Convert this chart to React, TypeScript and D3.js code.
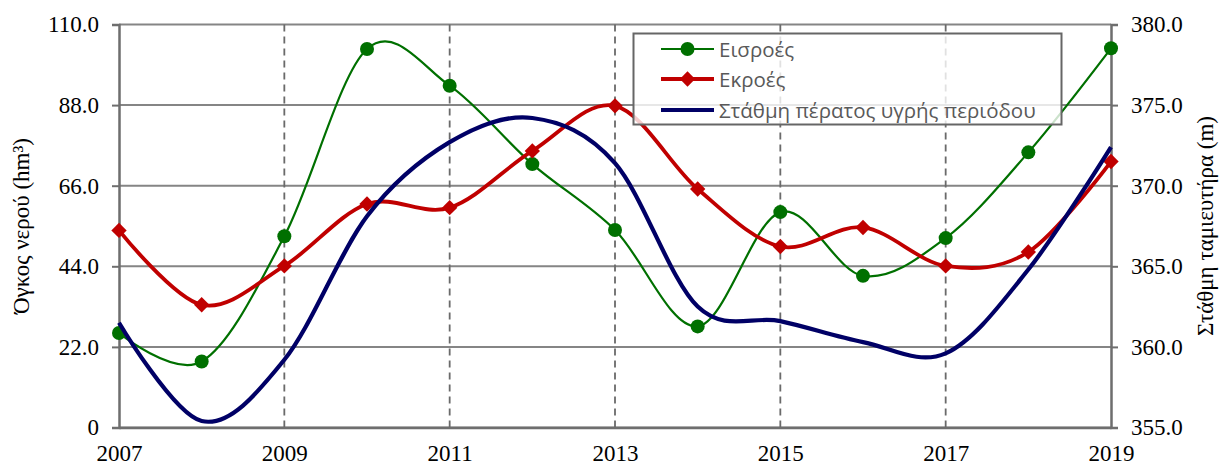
import React, { useEffect, useRef } from 'react';
import * as d3 from 'd3';

const years = [2007, 2008, 2009, 2010, 2011, 2012, 2013, 2014, 2015, 2016, 2017, 2018, 2019];
const inflows = [25.8, 18.0, 52.2, 103.3, 93.3, 71.9, 53.9, 27.6, 58.8, 41.4, 51.7, 75.1, 103.5];
const outflows = [53.8, 33.5, 44.1, 61.0, 60.0, 75.5, 87.8, 65.1, 49.4, 54.6, 44.1, 47.9, 72.6];
const level = [361.5, 355.4, 359.2, 368.1, 372.7, 374.2, 371.4, 362.5, 361.6, 360.3, 359.6, 364.8, 372.4];

const leftTicks = [0, 22, 44, 66, 88, 110];
const rightTicks = [355, 360, 365, 370, 375, 380];
const xLabels = [2007, 2009, 2011, 2013, 2015, 2017, 2019];
const dashedYears = [2009, 2011, 2013, 2015, 2017];

const seriesNames = ['Εισροές', 'Εκροές', 'Στάθμη πέρατος υγρής περιόδου'];

const App = () => {
  const svgRef = useRef<SVGSVGElement>(null);

  useEffect(() => {
    const width = 1224;
    const height = 466;
    const marginLeft = 119;
    const marginRight = 113;
    const marginTop = 24.5;
    const marginBottom = 38.5;

    const svg = d3.select(svgRef.current);
    svg.selectAll('*').remove();

    const x = d3.scaleLinear()
      .domain([2007, 2019])
      .range([marginLeft, width - marginRight]);

    const y = d3.scaleLinear()
      .domain([0, 110])
      .range([height - marginBottom, marginTop]);

    const y2 = d3.scaleLinear()
      .domain([355, 380])
      .range([height - marginBottom, marginTop]);

    const serif = '"Liberation Serif", "Times New Roman", serif';
    const axisGray = '#6e6e6e';

    // horizontal gridlines
    svg.append('g')
      .selectAll('line')
      .data(leftTicks)
      .join('line')
      .attr('x1', marginLeft)
      .attr('x2', width - marginRight)
      .attr('y1', d => y(d))
      .attr('y2', d => y(d))
      .attr('stroke', '#858585')
      .attr('stroke-width', 2);

    // vertical dashed gridlines
    svg.append('g')
      .selectAll('line')
      .data(dashedYears)
      .join('line')
      .attr('x1', d => x(d))
      .attr('x2', d => x(d))
      .attr('y1', y(110))
      .attr('y2', y(0))
      .attr('stroke', '#6a6a6a')
      .attr('stroke-width', 1.8)
      .attr('stroke-dasharray', '7,5');

    // left axis
    const gl = svg.append('g')
      .attr('transform', `translate(${marginLeft},0)`)
      .call(d3.axisLeft(y).tickValues(leftTicks).tickSize(7).tickPadding(13)
        .tickFormat(d => (d === 0 ? '0' : d3.format('.1f')(d as number))));
    gl.select('.domain').attr('stroke', axisGray).attr('stroke-width', 2.5);
    gl.selectAll('.tick line').attr('stroke', axisGray).attr('stroke-width', 2);
    gl.selectAll('.tick text').attr('fill', '#000').style('font-family', serif).style('font-size', '23px');

    // right axis
    const gr = svg.append('g')
      .attr('transform', `translate(${width - marginRight},0)`)
      .call(d3.axisRight(y2).tickValues(rightTicks).tickSize(7).tickPadding(13)
        .tickFormat(d3.format('.1f')));
    gr.select('.domain').attr('stroke', axisGray).attr('stroke-width', 2.5);
    gr.selectAll('.tick line').attr('stroke', axisGray).attr('stroke-width', 2);
    gr.selectAll('.tick text').attr('fill', '#000').style('font-family', serif).style('font-size', '23px');

    // bottom axis
    const gb = svg.append('g')
      .attr('transform', `translate(0,${height - marginBottom})`)
      .call(d3.axisBottom(x).tickValues(xLabels).tickSize(0).tickPadding(17)
        .tickFormat(d3.format('d')));
    gb.select('.domain').attr('stroke', axisGray).attr('stroke-width', 2.5);
    gb.selectAll('.tick text').attr('fill', '#000').style('font-family', serif).style('font-size', '23px');

    // axis titles
    svg.append('text')
      .attr('transform', `translate(24,${(marginTop + height - marginBottom) / 2}) rotate(-90)`)
      .attr('text-anchor', 'middle')
      .attr('dominant-baseline', 'middle')
      .style('font-family', serif)
      .style('font-size', '23px')
      .text('Όγκος νερού (hm³)');

    svg.append('text')
      .attr('transform', `translate(1208,${(marginTop + height - marginBottom) / 2}) rotate(-90)`)
      .attr('text-anchor', 'middle')
      .attr('dominant-baseline', 'middle')
      .style('font-family', serif)
      .style('font-size', '23px')
      .text('Στάθμη ταμιευτήρα (m)');

    const curve = d3.curveCatmullRom.alpha(0);

    const lineL = d3.line<number>()
      .x((d, i) => x(years[i]))
      .y(d => y(d))
      .curve(curve);

    const lineR = d3.line<number>()
      .x((d, i) => x(years[i]))
      .y(d => y2(d))
      .curve(curve);

    const green = '#007000';
    const red = '#c00000';
    const navy = '#000066';

    // inflows
    svg.append('path')
      .datum(inflows)
      .attr('fill', 'none')
      .attr('stroke', green)
      .attr('stroke-width', 2.2)
      .attr('d', lineL);

    svg.append('g')
      .selectAll('circle')
      .data(inflows)
      .join('circle')
      .attr('cx', (d, i) => x(years[i]))
      .attr('cy', d => y(d))
      .attr('r', 7)
      .attr('fill', green);

    // outflows
    svg.append('path')
      .datum(outflows)
      .attr('fill', 'none')
      .attr('stroke', red)
      .attr('stroke-width', 3.8)
      .attr('d', lineL);

    const diamond = d3.symbol().type(d3.symbolDiamond2).size(150);
    svg.append('g')
      .selectAll('path')
      .data(outflows)
      .join('path')
      .attr('transform', (d, i) => `translate(${x(years[i])},${y(d)})`)
      .attr('d', diamond)
      .attr('fill', red);

    // reservoir level (secondary axis)
    svg.append('path')
      .datum(level)
      .attr('fill', 'none')
      .attr('stroke', navy)
      .attr('stroke-width', 4.2)
      .attr('d', lineR);

    // legend
    const lg = svg.append('g');
    lg.append('rect')
      .attr('x', 633.5)
      .attr('y', 33.5)
      .attr('width', 428)
      .attr('height', 91)
      .attr('fill', 'rgba(255,255,255,0.8)')
      .attr('stroke', '#666')
      .attr('stroke-width', 2);

    const legendColors = [green, red, navy];
    const legendWidths = [2.2, 3.8, 4.2];
    const rowY = [49, 79, 110];
    seriesNames.forEach((name, i) => {
      lg.append('line')
        .attr('x1', 661)
        .attr('x2', 714)
        .attr('y1', rowY[i])
        .attr('y2', rowY[i])
        .attr('stroke', legendColors[i])
        .attr('stroke-width', legendWidths[i]);
      if (i === 0) {
        lg.append('circle').attr('cx', 687.5).attr('cy', rowY[i]).attr('r', 7).attr('fill', green);
      } else if (i === 1) {
        lg.append('path')
          .attr('transform', `translate(687.5,${rowY[i]})`)
          .attr('d', diamond)
          .attr('fill', red);
      }
      lg.append('text')
        .attr('x', 719)
        .attr('y', rowY[i])
        .attr('dominant-baseline', 'central')
        .attr('fill', '#595959')
        .style('font-family', '"Open Sans", "Noto Sans", sans-serif')
        .style('font-size', '20.5px')
        .text(name);
    });
  }, []);

  return (
    <svg
      ref={svgRef}
      width={1224}
      height={466}
      style={{ position: 'absolute', left: 0, top: 0, background: '#fff' }}
    />
  );
};

export default App;
